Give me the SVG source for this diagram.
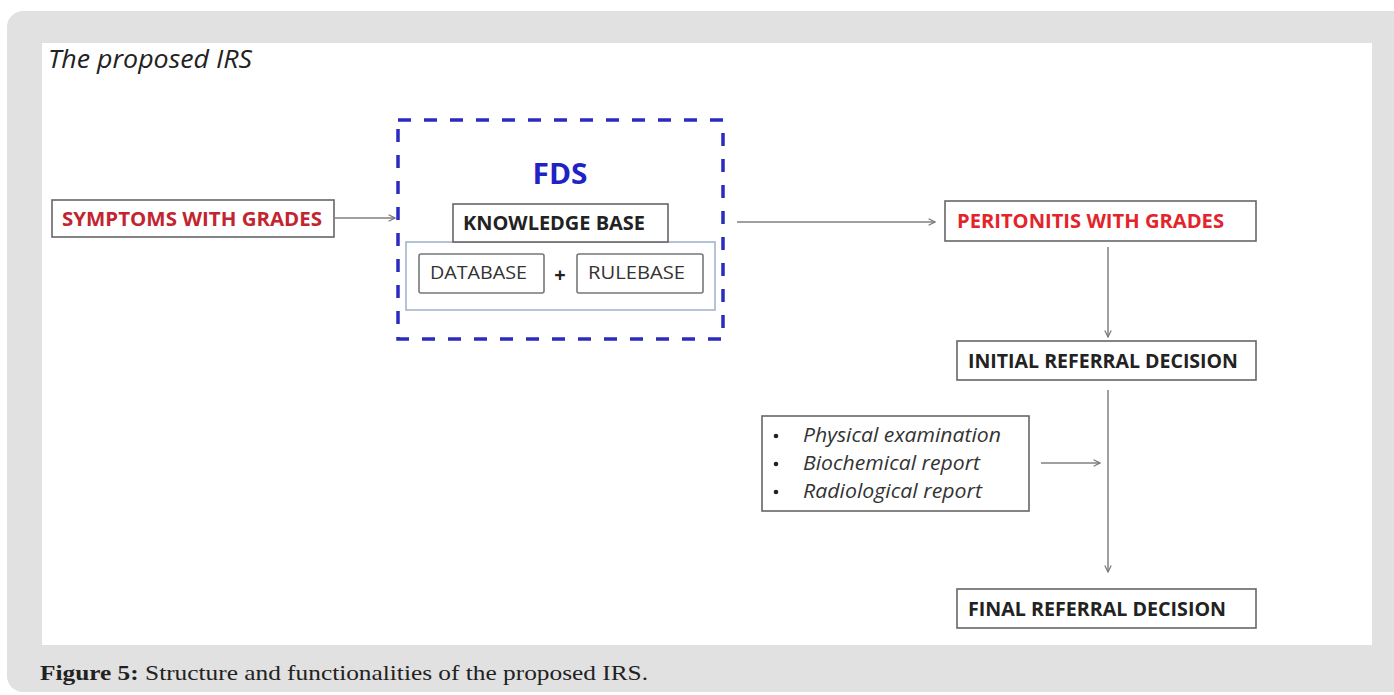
<svg xmlns="http://www.w3.org/2000/svg" width="1394" height="695" viewBox="0 0 1394 695">
<defs>
<marker id="arr" viewBox="0 0 10 10" refX="9" refY="5" markerWidth="8" markerHeight="8" markerUnits="userSpaceOnUse" orient="auto">
<path d="M1,1 L9,5 L1,9" fill="none" stroke="#777" stroke-width="1.5"/>
</marker>
</defs>
<style>
.box{fill:#fff;stroke:#666;stroke-width:1.6}
.sb{fill:#fff;stroke:#777;stroke-width:1.6}
.t{font-family:"Open Sans","Liberation Sans",sans-serif;font-weight:bold;font-size:20px;fill:#222}
.n{font-family:"Open Sans","Liberation Sans",sans-serif;font-size:19px;fill:#333}
.i{font-family:"Open Sans","Liberation Sans",sans-serif;font-style:italic;font-size:20px;fill:#333}
.c{stroke:#808080;stroke-width:1.5;fill:none;marker-end:url(#arr)}
.cap{font-family:"Liberation Serif","DejaVu Serif",serif;font-size:21px;fill:#222}
</style>
<rect x="7" y="11" width="1410" height="681" rx="16" fill="#e1e1e1"/>
<rect x="42" y="43" width="1330" height="602" fill="#fff"/>
<text x="48" y="68" font-family="Open Sans, Liberation Sans, sans-serif" font-style="italic" font-size="25" fill="#222" textLength="204" lengthAdjust="spacingAndGlyphs">The proposed IRS</text>

<g id="symptoms">
<rect class="box" x="52" y="200" width="282" height="37"/>
<text class="t" x="62" y="226" style="fill:#c22530" textLength="260" lengthAdjust="spacingAndGlyphs">SYMPTOMS WITH GRADES</text>
</g>

<g id="fds">
<rect x="398" y="120" width="325" height="219" fill="none" stroke="#2b2bc0" stroke-width="3.5" stroke-dasharray="13 13"/>
<text x="560" y="184" text-anchor="middle" font-family="Open Sans, Liberation Sans, sans-serif" font-weight="bold" font-size="29" fill="#1f22c4" textLength="55" lengthAdjust="spacingAndGlyphs">FDS</text>
</g>

<g id="knowledge-base">
<rect x="406" y="242" width="309" height="68" fill="#fff" stroke="#9fb0c8" stroke-width="1.5"/>
<rect class="box" x="453" y="204" width="215" height="38"/>
<text class="t" x="463" y="230" textLength="182" lengthAdjust="spacingAndGlyphs">KNOWLEDGE BASE</text>
</g>

<g id="database">
<rect class="sb" x="419" y="254" width="125" height="39" rx="2"/>
<text class="n" x="430" y="279" textLength="97" lengthAdjust="spacingAndGlyphs">DATABASE</text>
</g>
<text class="t" x="560" y="282" text-anchor="middle" font-size="17">+</text>
<g id="rulebase">
<rect class="sb" x="577" y="254" width="126" height="39" rx="2"/>
<text class="n" x="588" y="279" textLength="97" lengthAdjust="spacingAndGlyphs">RULEBASE</text>
</g>

<g id="peritonitis">
<rect class="box" x="945" y="201" width="311" height="40"/>
<text class="t" x="957" y="228" style="fill:#e3242b" textLength="267" lengthAdjust="spacingAndGlyphs">PERITONITIS WITH GRADES</text>
</g>

<g id="initial">
<rect class="box" x="957" y="341" width="299" height="39"/>
<text class="t" x="968" y="368" textLength="270" lengthAdjust="spacingAndGlyphs">INITIAL REFERRAL DECISION</text>
</g>

<g id="exams">
<rect class="box" x="762" y="416" width="267" height="95"/>
<circle cx="776" cy="436" r="2.3" fill="#222"/>
<circle cx="776" cy="464" r="2.3" fill="#222"/>
<circle cx="776" cy="492" r="2.3" fill="#222"/>
<text class="i" x="803" y="442" textLength="198" lengthAdjust="spacingAndGlyphs">Physical examination</text>
<text class="i" x="803" y="470" textLength="177" lengthAdjust="spacingAndGlyphs">Biochemical report</text>
<text class="i" x="803" y="498" textLength="179" lengthAdjust="spacingAndGlyphs">Radiological report</text>
</g>

<g id="final">
<rect class="box" x="957" y="589" width="299" height="39"/>
<text class="t" x="968" y="616" textLength="258" lengthAdjust="spacingAndGlyphs">FINAL REFERRAL DECISION</text>
</g>

<g id="connectors">
<line class="c" x1="335" y1="218" x2="395" y2="218"/>
<line class="c" x1="737" y1="222" x2="935" y2="222"/>
<line class="c" x1="1108" y1="247" x2="1108" y2="337"/>
<line class="c" x1="1108" y1="390" x2="1108" y2="572"/>
<line class="c" x1="1041" y1="463" x2="1100" y2="463"/>
</g>

<text class="cap" x="40" y="680" textLength="608" lengthAdjust="spacingAndGlyphs"><tspan font-weight="bold">Figure 5:</tspan> Structure and functionalities of the proposed IRS.</text>
</svg>
